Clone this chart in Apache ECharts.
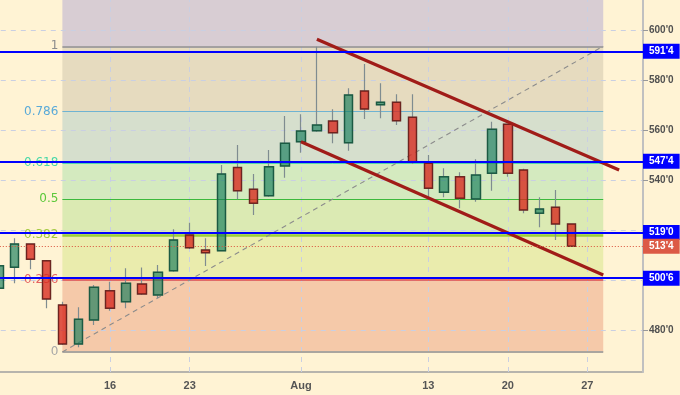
<!DOCTYPE html>
<html><head><meta charset="utf-8">
<script src="https://cdn.jsdelivr.net/npm/echarts@6/dist/echarts.min.js"></script>
<style>html,body{margin:0;padding:0;background:#fff3d4}#c{width:680px;height:395px}</style>
</head><body><div id="c"></div>
<script>
// ---- data ----
const dates = ['Jul 5','Jul 6','Jul 9','Jul 10','Jul 11','Jul 12','Jul 13','Jul 16','Jul 17','Jul 18','Jul 19','Jul 20',
  'Jul 23','Jul 24','Jul 25','Jul 26','Jul 27','Jul 30','Jul 31','Aug 1','Aug 2','Aug 3','Aug 6','Aug 7','Aug 8','Aug 9',
  'Aug 10','Aug 13','Aug 14','Aug 15','Aug 16','Aug 17','Aug 20','Aug 21','Aug 22','Aug 23','Aug 24','Aug 27','Aug 28','Aug 29','Aug 30'];
const opens  = [496.7,505.1,514.4,507.7,490.0,474.4,484.0,495.7,491.3,498.4,494.0,503.7,518.0,512.0,511.7,545.0,536.3,533.7,545.6,555.3,559.7,563.6,554.9,575.6,570.1,571.1,565.1,546.7,535.1,541.3,532.4,542.7,562.3,544.0,526.7,529.1,522.4];
const closes = [505.7,514.4,508.3,492.4,474.4,484.3,497.1,488.7,498.7,494.4,503.1,516.0,512.9,510.9,542.4,535.7,530.7,545.3,554.7,559.6,562.0,558.9,574.0,568.4,571.1,563.7,547.1,536.7,541.3,532.7,542.0,560.3,542.7,528.0,528.4,522.4,513.5];
const lows   = [494.0,498.7,504.3,488.7,474.0,473.1,482.0,487.7,488.7,494.0,492.8,503.3,512.4,505.6,511.5,532.3,526.0,533.3,540.9,550.9,559.3,554.7,551.7,564.4,564.7,562.0,546.4,532.4,533.1,528.7,531.3,535.7,541.3,526.7,521.1,516.0,513.5];
const highs  = [509.0,516.7,514.6,508.0,491.3,489.1,498.0,499.3,504.7,505.0,506.0,520.3,522.9,516.7,546.0,554.0,542.4,552.0,565.6,566.3,593.3,568.3,576.7,586.4,578.7,574.3,574.3,550.0,544.7,543.1,548.3,563.3,562.5,544.5,533.1,536.0,522.5];
const xTickDates  = ['Jul 16','Jul 23','Aug 1','Aug 13','Aug 20','Aug 27'];
const xTickLabels = ['16','23','Aug','13','20','27'];
const yTickValues  = [480,500,520,540,560,580,600];
const yLabelValues = [480,540,560,580,600];
const fibLevels = [0,0.236,0.382,0.5,0.618,0.786,1];
const fibLow = 471.25, fibHigh = 593.5;
const fibStart = 'Jul 11', fibEnd = 'Aug 28';
const levelLines = [591.5,547.5,519.0,500.75];
const lastPrice = 513.5;
const upperChannel = [['Aug 2',596.3],['Aug 29',544.0]];
const lowerChannel = [['Aug 1',555.3],['Aug 28',502.0]];
const yMin = 463.2, yMax = 612;

// ---- styles ----
const bandColors = ['#f5c9a9','#eaecad','#dbeab3','#d4eabf','#d6dfcd','#e6dbbf','#d8cdd3'];
const fibLineColors = ['#aaa59f','#e04848','#9ccc3c','#3cb93c','#52d6a9','#6fb3d2','#8c8c94'];
const fibLineWidths = [2,1.5,2.5,1,1,1,1.5];
const fibLabelColors = ['#a8a8a8','#e46262','#a3c940','#5cc83a','#48d8a8','#5aaad8','#8c8c8c'];
const gridLineColor = '#c9cfe2';

const fmt = v => { const w = Math.floor(v + 1e-9); return w + "'" + Math.round((v - w) * 8); };
const fibPrice = l => fibLow + l * (fibHigh - fibLow);
const ohlc = opens.map((o,i) => [o, closes[i], lows[i], highs[i]]);
const bodies = opens.map((o,i) => [o, closes[i], Math.min(o, closes[i]), Math.max(o, closes[i])]);

const chart = echarts.init(document.getElementById('c'));
chart.setOption({
  backgroundColor: '#fff3d4',
  animation: false,
  textStyle: { fontFamily: 'Liberation Sans' },
  grid: { left: -9.2, right: 37, top: 0, bottom: 23, outerBoundsMode: 'none', containLabel: false },
  xAxis: {
    type: 'category', data: dates, boundaryGap: true,
    axisLine: { lineStyle: { color: '#a0a0a0', width: 1.5 } },
    axisTick: { alignWithLabel: true, length: 4, lineStyle: { color: '#a0a0a0' },
      interval: (i, name) => xTickDates.includes(name) },
    axisLabel: { interval: (i, name) => xTickDates.includes(name), margin: 8,
      formatter: name => xTickLabels[xTickDates.indexOf(name)],
      color: '#555', fontSize: 11, fontWeight: 'bold' },
    splitLine: { show: false }
  },
  yAxis: {
    type: 'value', position: 'right', min: yMin, max: yMax, z: 2,
    axisLine: { show: true, lineStyle: { color: '#c0c0c0', width: 2 } },
    axisTick: { show: true, customValues: yTickValues, length: 5, lineStyle: { color: '#999' } },
    axisLabel: { customValues: yLabelValues, formatter: fmt, color: '#505050', fontSize: 10, fontWeight: 'bold', margin: 6 },
    splitLine: { show: true, lineStyle: { color: gridLineColor, type: [5,5] } }
  },
  series: [
    { type: 'line', data: [], silent: true,
      markArea: { silent: true, z: 1, label: { show: false },
        data: bandColors.map((c, i) => [
          { xAxis: fibStart, yAxis: fibPrice(fibLevels[i]), itemStyle: { color: c } },
          { xAxis: fibEnd, yAxis: i + 1 < fibLevels.length ? fibPrice(fibLevels[i + 1]) : yMax }
        ]) },
      markLine: { silent: true, z: 2, symbol: ['none','none'], label: { show: false },
        lineStyle: { color: gridLineColor, type: [5,5], width: 1 },
        data: xTickDates.map(d => ({ xAxis: d })) }
    },
    { type: 'line', data: [], silent: true,
      markLine: { silent: true, z: 3, symbol: ['none','none'],
        data: fibLevels.map((l, i) => [
          { coord: [fibStart, fibPrice(l)],
            lineStyle: { color: fibLineColors[i], width: fibLineWidths[i], type: 'solid' },
            label: { show: true, position: 'start', distance: 4, formatter: String(l),
              color: fibLabelColors[i], fontSize: 12, fontFamily: 'DejaVu Sans' } },
          { coord: [fibEnd, fibPrice(l)] }
        ]) }
    },
    { type: 'line', z: 3, data: [[fibStart, fibLow], [fibEnd, fibHigh]], symbol: 'none', silent: true,
      lineStyle: { color: '#8c8c8c', width: 1.1, type: [5,4] } },
    { type: 'candlestick', z: 10, data: ohlc, barWidth: 9, silent: true,
      itemStyle: { color: 'rgba(0,0,0,0)', color0: 'rgba(0,0,0,0)', borderColor: '#7f8c90', borderColor0: '#7f8c90', borderWidth: 1.2 } },
    { type: 'candlestick', z: 11, data: bodies, barWidth: 9, silent: true,
      itemStyle: { color: 'rgba(20,125,90,0.65)', color0: 'rgba(215,40,30,0.78)',
        borderColor: 'rgba(20,85,60,0.9)', borderColor0: 'rgba(100,25,20,0.85)', borderWidth: 1.4 } },
    { type: 'line', z: 12, data: upperChannel, symbol: 'none', silent: true, lineStyle: { color: '#a01c18', width: 3.2 } },
    { type: 'line', z: 12, data: lowerChannel, symbol: 'none', silent: true, lineStyle: { color: '#a01c18', width: 3.2 } },
    { type: 'line', data: [], silent: true,
      markLine: { silent: true, z: 13, symbol: ['none','none'],
        label: { show: true, position: 'end', distance: 0, color: '#fff', fontWeight: 'bold', fontSize: 10,
          fontFamily: 'Liberation Sans', padding: [2,6,2,6], lineHeight: 11 },
        data: levelLines.map(v => ({ yAxis: v,
          lineStyle: { color: '#0000ff', width: 2, type: 'solid' },
          label: { formatter: fmt(v), backgroundColor: '#0000ff' } }))
          .concat([{ yAxis: lastPrice,
          lineStyle: { color: '#d9503a', width: 1, type: [1,2] },
          label: { formatter: fmt(lastPrice), backgroundColor: '#dc5a46' } }]) }
    }
  ]
});
</script></body></html>
